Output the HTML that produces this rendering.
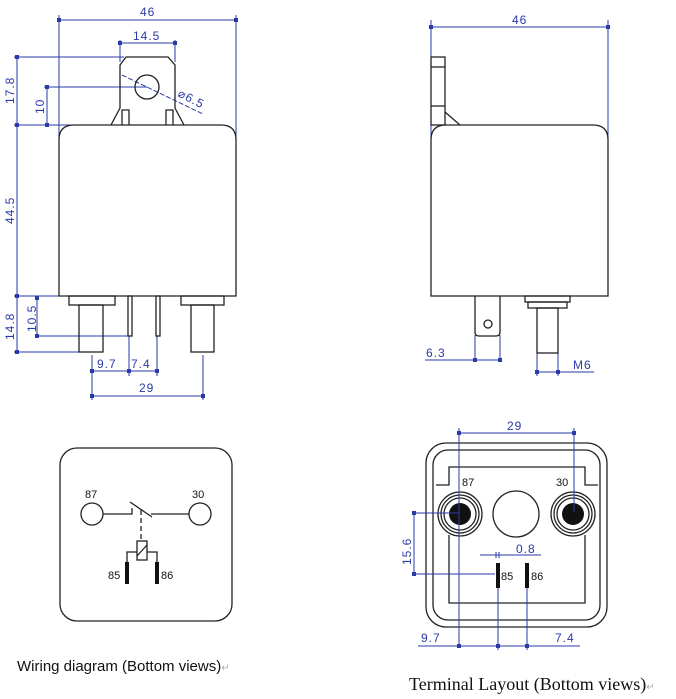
<!DOCTYPE html>
<html><head><meta charset="utf-8"><style>
html,body{margin:0;padding:0;background:#fff;}
svg{display:block;}
.b{stroke:#2a3aa8;stroke-width:1;fill:none;}
.k{stroke:#222;stroke-width:1.3;fill:none;}
.t{fill:#2a3aa8;font-family:"Liberation Sans",sans-serif;font-size:12px;letter-spacing:1px;}
.w{fill:#111;font-family:"Liberation Sans",sans-serif;font-size:11px;}
</style></head><body>
<svg width="676" height="699" viewBox="0 0 676 699" xmlns="http://www.w3.org/2000/svg">
<defs><marker id="a" viewBox="0 0 4 4" refX="2" refY="2" markerWidth="4" markerHeight="4"><rect width="4" height="4" fill="#2a3aa8"/></marker></defs>
<!-- LEFT VIEW -->
<g class="b">
<line x1="59" y1="15" x2="59" y2="140"/><line x1="236" y1="15" x2="236" y2="140"/>
<line x1="59" y1="20" x2="236" y2="20" marker-start="url(#a)" marker-end="url(#a)"/>
<line x1="120" y1="40" x2="120" y2="62"/><line x1="175" y1="40" x2="175" y2="62"/>
<line x1="120" y1="43" x2="175" y2="43" marker-start="url(#a)" marker-end="url(#a)"/>
<line x1="14" y1="57" x2="124" y2="57"/><line x1="14" y1="125" x2="110" y2="125"/>
<line x1="17" y1="57" x2="17" y2="125" marker-start="url(#a)" marker-end="url(#a)"/>
<line x1="44" y1="87" x2="147" y2="87"/>
<line x1="47" y1="87" x2="47" y2="125" marker-start="url(#a)" marker-end="url(#a)"/>
<line x1="122" y1="75" x2="203" y2="114" stroke-dasharray="5,2"/>
<line x1="17" y1="125" x2="17" y2="296" marker-start="url(#a)" marker-end="url(#a)"/>
<line x1="14" y1="296" x2="69" y2="296"/>
<line x1="17" y1="296" x2="17" y2="352" marker-start="url(#a)" marker-end="url(#a)"/>
<line x1="14" y1="352" x2="79" y2="352"/>
<line x1="35" y1="336" x2="128" y2="336"/>
<line x1="37" y1="298" x2="37" y2="336" marker-start="url(#a)" marker-end="url(#a)"/>
<line x1="92" y1="355" x2="92" y2="400"/><line x1="203" y1="355" x2="203" y2="400"/>
<line x1="129" y1="336" x2="129" y2="376"/><line x1="157" y1="336" x2="157" y2="376"/>
<line x1="92" y1="371" x2="129" y2="371" marker-start="url(#a)" marker-end="url(#a)"/>
<line x1="129" y1="371" x2="157" y2="371" marker-start="url(#a)" marker-end="url(#a)"/>
<line x1="92" y1="396" x2="203" y2="396" marker-start="url(#a)" marker-end="url(#a)"/>
</g>
<g class="t">
<text x="140" y="16">46</text><text x="133" y="40">14.5</text>
<text transform="translate(14,104) rotate(-90)">17.8</text>
<text transform="translate(44,114) rotate(-90)">10</text>
<text transform="translate(14,224) rotate(-90)">44.5</text>
<text transform="translate(14,340) rotate(-90)">14.8</text>
<text transform="translate(36,332) rotate(-90)">10.5</text>
<text transform="translate(177,96) rotate(27)">⌀6.5</text>
<text x="97" y="368">9.7</text><text x="131" y="368">7.4</text>
<text x="139" y="392">29</text>
</g>
<g class="k">
<path d="M111,125 L120,108 L120,65 L126,57 L168,57 L175,65 L175,108 L184,125"/>
<circle cx="147" cy="87" r="12"/>
<path d="M122,125 V110 H129 V125 M166,125 V110 H173 V125"/>
<path d="M59,296 V140 Q59,125 74,125 H221 Q236,125 236,140 V296 Z"/>
<rect x="69" y="296" width="46" height="9"/><rect x="79" y="305" width="24" height="47"/>
<rect x="181" y="296" width="43" height="9"/><rect x="191" y="305" width="23" height="47"/>
<rect x="128" y="296" width="4" height="40"/><rect x="156" y="296" width="4" height="40"/>
</g>
<!-- RIGHT VIEW -->
<g class="b">
<line x1="431" y1="20" x2="431" y2="145"/><line x1="608" y1="20" x2="608" y2="140"/>
<line x1="431" y1="27" x2="608" y2="27" marker-start="url(#a)" marker-end="url(#a)"/>
<line x1="475" y1="335" x2="475" y2="362"/><line x1="500" y1="335" x2="500" y2="362"/>
<line x1="425" y1="360" x2="500" y2="360"/>
<line x1="475" y1="360" x2="500" y2="360" marker-start="url(#a)" marker-end="url(#a)"/>
<line x1="537" y1="353" x2="537" y2="376"/><line x1="558" y1="353" x2="558" y2="376"/>
<line x1="537" y1="372" x2="594" y2="372"/>
<line x1="537" y1="372" x2="558" y2="372" marker-start="url(#a)" marker-end="url(#a)"/>
</g>
<g class="t"><text x="512" y="24">46</text><text x="426" y="357">6.3</text><text x="573" y="369">M6</text></g>
<g class="k">
<rect x="431" y="57" width="14" height="68"/><line x1="431" y1="67" x2="445" y2="67"/><line x1="431" y1="106" x2="445" y2="106"/>
<line x1="445" y1="112" x2="460" y2="125"/>
<path d="M431,296 V140 Q431,125 446,125 H593 Q608,125 608,140 V296 Z"/>
<path d="M475,296 V332 Q475,336 479,336 H496 Q500,336 500,332 V296"/>
<circle cx="488" cy="324" r="4"/>
<rect x="525" y="296" width="45" height="6"/><rect x="528" y="302" width="39" height="6"/>
<rect x="537" y="308" width="21" height="45"/>
</g>
<!-- WIRING DIAGRAM -->
<g class="k">
<rect x="60" y="448" width="172" height="173" rx="17"/>
<circle cx="92" cy="514" r="11"/><circle cx="200" cy="514" r="11"/>
<path d="M103,514 H132 V508 M130,502 L152,517 M151,514 H189"/>
<line x1="141" y1="510" x2="141" y2="541" stroke-dasharray="5,3"/>
<rect x="137" y="541" width="10" height="19"/><line x1="137" y1="556" x2="147" y2="545"/>
<path d="M137,552 H127 V562 M147,552 H157 V562"/>
</g>
<rect x="125" y="562" width="4" height="22" fill="#111"/><rect x="155" y="562" width="4" height="22" fill="#111"/>
<g class="w"><text x="85" y="498">87</text><text x="192" y="498">30</text><text x="108" y="579">85</text><text x="161" y="579">86</text></g>
<text x="17" y="671" font-family="Liberation Sans,sans-serif" font-size="15" fill="#111">Wiring diagram (Bottom views)<tspan fill="#aaa" font-size="10">↵</tspan></text>
<!-- TERMINAL LAYOUT -->
<g class="k">
<rect x="426" y="443" width="181" height="184" rx="20"/>
<rect x="433" y="450" width="167" height="170" rx="15"/>
<path d="M436,485 H449 V467 H585 V485 H598"/>
<path d="M449,535 V603 H585 V535"/>
<circle cx="460" cy="514" r="22"/><circle cx="460" cy="514" r="19"/><circle cx="460" cy="514" r="16"/>
<circle cx="573" cy="514" r="22"/><circle cx="573" cy="514" r="19"/><circle cx="573" cy="514" r="16"/>
<circle cx="516" cy="514" r="23"/>
</g>
<circle cx="460" cy="514" r="11" fill="#111"/><circle cx="573" cy="514" r="11" fill="#111"/>
<rect x="496" y="563" width="4" height="25" fill="#111"/><rect x="525" y="563" width="4" height="25" fill="#111"/>
<g class="w"><text x="462" y="486">87</text><text x="556" y="486">30</text><text x="501" y="580">85</text><text x="531" y="580">86</text></g>
<g class="b">
<line x1="459" y1="428" x2="459" y2="648"/><line x1="574" y1="428" x2="574" y2="512"/>
<line x1="459" y1="433" x2="574" y2="433" marker-start="url(#a)" marker-end="url(#a)"/>
<line x1="412" y1="513" x2="460" y2="513"/><line x1="412" y1="574" x2="495" y2="574"/>
<line x1="414" y1="513" x2="414" y2="574" marker-start="url(#a)" marker-end="url(#a)"/>
<line x1="480" y1="555" x2="541" y2="555"/>
<line x1="496" y1="552" x2="496" y2="558"/><line x1="499" y1="552" x2="499" y2="558"/>
<line x1="498" y1="588" x2="498" y2="650"/><line x1="527" y1="588" x2="527" y2="650"/>
<line x1="418" y1="646" x2="580" y2="646"/>
<line x1="459" y1="646" x2="498" y2="646" marker-start="url(#a)" marker-end="url(#a)"/>
<line x1="498" y1="646" x2="527" y2="646" marker-start="url(#a)" marker-end="url(#a)"/>
</g>
<g class="t"><text x="507" y="430">29</text>
<text transform="translate(411,565) rotate(-90)">15.6</text>
<text x="516" y="553">0.8</text><text x="421" y="642">9.7</text><text x="555" y="642">7.4</text></g>
<text x="409" y="690" font-family="Liberation Serif,serif" font-size="18" fill="#111">Terminal Layout (Bottom views)<tspan fill="#aaa" font-size="10">↵</tspan></text>
</svg>
</body></html>
